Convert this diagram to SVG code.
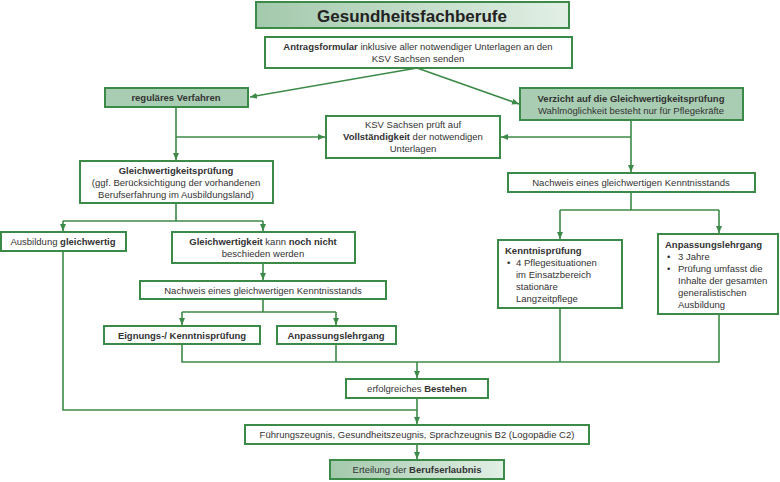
<svg xmlns="http://www.w3.org/2000/svg" width="780" height="482" viewBox="0 0 780 482">
<style>
.b{fill:#fff;stroke:#3c8a48;stroke-width:2}
.g{fill:#a9cdb2;stroke:#3c8a48;stroke-width:2}
.gr{fill:url(#gd);stroke:#3c8a48;stroke-width:2}
text{font-family:"Liberation Sans",Arial,sans-serif;font-size:9.5px;fill:#333}
.c{text-anchor:middle}
.bd{font-weight:bold}
.cn path{fill:none;stroke:#3c8a48;stroke-width:1.6}
</style>
<defs>
<linearGradient id="gd" x1="0" y1="0" x2="1" y2="0"><stop offset="0" stop-color="#a3c9ac"/><stop offset="1" stop-color="#e2efe5"/></linearGradient>
<marker id="a" markerWidth="8" markerHeight="8" refX="7" refY="4" orient="auto" markerUnits="userSpaceOnUse"><path d="M0,1 L7,4 L0,7z" fill="#3c8a48"/></marker>
</defs>
<rect width="780" height="482" fill="#fff"/>
<g class="cn">
<path d="M417,68 L250,97" marker-end="url(#a)"/>
<path d="M417,68 L519,104" marker-end="url(#a)"/>
<path d="M176,107 V160" marker-end="url(#a)"/>
<path d="M176,137 H325" marker-end="url(#a)"/>
<path d="M631,120 V172" marker-end="url(#a)"/>
<path d="M631,137 H501" marker-end="url(#a)"/>
<path d="M176,203 V221 M63,221 H263"/>
<path d="M63,221 V231" marker-end="url(#a)"/>
<path d="M263,221 V231" marker-end="url(#a)"/>
<path d="M263,263 V280" marker-end="url(#a)"/>
<path d="M263,299 V312 M182,312 H336"/>
<path d="M182,312 V325" marker-end="url(#a)"/>
<path d="M336,312 V325" marker-end="url(#a)"/>
<path d="M631,192 V210 M560,210 H719"/>
<path d="M560,210 V239" marker-end="url(#a)"/>
<path d="M719,210 V233" marker-end="url(#a)"/>
<path d="M182,344 V362 H719 V314 M336,344 V362 M560,308 V362"/>
<path d="M417,362 V378" marker-end="url(#a)"/>
<path d="M63,251 V410 H417"/>
<path d="M417,398 V424" marker-end="url(#a)"/>
<path d="M417,444 V459" marker-end="url(#a)"/>
</g>
<g id="title"><rect class="gr" x="256" y="2" width="313" height="26"/><text class="c bd" x="412" y="22" style="font-size:17px;fill:#222">Gesundheitsfachberufe</text></g>
<g id="antrag"><rect class="b" x="265" y="37" width="307" height="31"/><text class="c" x="418" y="50"><tspan class="bd">Antragsformular</tspan> inklusive aller notwendiger Unterlagen an den</text><text class="c" x="418" y="62">KSV Sachsen senden</text></g>
<g id="regulaer"><rect class="g" x="105" y="88" width="143" height="19"/><text class="c bd" x="176" y="101">reguläres Verfahren</text></g>
<g id="verzicht"><rect class="g" x="520" y="88" width="223" height="32"/><text class="c bd" x="631" y="102">Verzicht auf die Gleichwertigkeitsprüfung</text><text class="c" x="631" y="114">Wahlmöglichkeit besteht nur für Pflegekräfte</text></g>
<g id="ksv"><rect class="b" x="326" y="116" width="174" height="42"/><text class="c" x="413" y="128">KSV Sachsen prüft auf</text><text class="c" x="413" y="140"><tspan class="bd">Vollständigkeit</tspan> der notwendigen</text><text class="c" x="413" y="152">Unterlagen</text></g>
<g id="gleich"><rect class="b" x="80" y="161" width="193" height="42"/><text class="c bd" x="176" y="174">Gleichwertigkeitsprüfung</text><text class="c" x="176" y="186">(ggf. Berücksichtigung der vorhandenen</text><text class="c" x="176" y="198">Berufserfahrung im Ausbildungsland)</text></g>
<g id="ausbildung"><rect class="b" x="1" y="232" width="125" height="19"/><text class="c" x="63" y="245">Ausbildung <tspan class="bd">gleichwertig</tspan></text></g>
<g id="gleich2"><rect class="b" x="172" y="232" width="183" height="31"/><text class="c" x="263" y="245"><tspan class="bd">Gleichwertigkeit</tspan> kann <tspan class="bd">noch nicht</tspan></text><text class="c" x="263" y="257">beschieden werden</text></g>
<g id="nachweis2"><rect class="b" x="140" y="281" width="246" height="18"/><text class="c" x="263" y="294">Nachweis eines gleichwertigen Kenntnisstands</text></g>
<g id="eignung"><rect class="b" x="104" y="326" width="156" height="18"/><text class="c bd" x="182" y="339">Eignungs-/ Kenntnisprüfung</text></g>
<g id="anpassung1"><rect class="b" x="277" y="326" width="119" height="18"/><text class="c bd" x="336" y="339">Anpassungslehrgang</text></g>
<g id="nachweis1"><rect class="b" x="508" y="173" width="247" height="19"/><text class="c" x="631" y="186">Nachweis eines gleichwertigen Kenntnisstands</text></g>
<g id="kenntnis"><rect class="b" x="498" y="240" width="124" height="68"/><text class="bd" x="505" y="254">Kenntnisprüfung</text><text x="507" y="266">•</text><text x="516" y="266">4 Pflegesituationen</text><text x="516" y="278">im Einsatzbereich</text><text x="516" y="290">stationäre</text><text x="516" y="302">Langzeitpflege</text></g>
<g id="anpassung2"><rect class="b" x="658" y="234" width="120" height="80"/><text class="bd" x="665" y="248">Anpassungslehrgang</text><text x="667" y="260">•</text><text x="678" y="260">3 Jahre</text><text x="667" y="272">•</text><text x="678" y="272">Prüfung umfasst die</text><text x="678" y="284">Inhalte der gesamten</text><text x="678" y="296">generalistischen</text><text x="678" y="308">Ausbildung</text></g>
<g id="erfolg"><rect class="b" x="346" y="379" width="142" height="19"/><text class="c" x="417" y="392">erfolgreiches <tspan class="bd">Bestehen</tspan></text></g>
<g id="fuehrung"><rect class="b" x="245" y="425" width="344" height="19"/><text class="c" x="417" y="438">Führungszeugnis, Gesundheitszeugnis, Sprachzeugnis B2 (Logopädie C2)</text></g>
<g id="erteilung"><rect class="gr" x="330" y="460" width="174" height="19"/><text class="c" x="417" y="473">Erteilung der <tspan class="bd">Berufserlaubnis</tspan></text></g>
</svg>
